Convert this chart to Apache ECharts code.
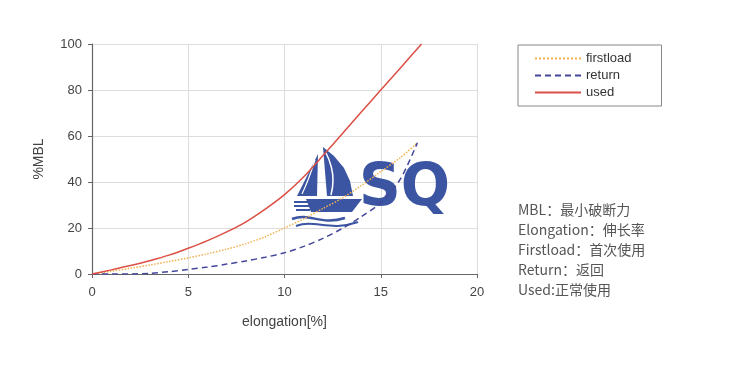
<!DOCTYPE html>
<html><head><meta charset="utf-8">
<script src="https://cdn.jsdelivr.net/npm/echarts@6/dist/echarts.min.js"></script>
<style>html,body{margin:0;padding:0;background:#fff}#c{width:744px;height:376px}</style>
</head><body><div id="c"></div>
<script>
const seriesNames = ['firstload', 'return', 'used'];
const firstloadX = [0,1,2,3,4,5,6,7,8,9,10,11,12,13,14,15,16,16.9];
const firstloadY = [0,1.2,2.5,3.9,5.4,7,8.8,10.8,13.2,16.2,20,24,28.5,33,38.5,44.5,50.5,57];
const returnX = [0,1,2,3,4,5,6,7,8,9,10,11,12,13,14,15,16,16.9];
const returnY = [0,0,0,0.3,1,2,3,4.3,5.7,7.3,9.2,12,15.5,19.8,25,31,41,57];
const usedX = [0,1,2,3,4,5,6,7,8,9,10,11,12,13,14,15,16,17.12];
const usedY = [0,1.8,3.7,5.8,8.2,11.2,14.5,18.3,22.7,28.2,34.5,42.3,51.5,61,70.5,80,89.4,100];
const xTicks = [0,5,10,15,20];
const yTicks = [0,20,40,60,80,100];
const notes = ['MBL：最小破断力','Elongation：伸长率','Firstload：首次使用','Return：返回','Used:正常使用'];

const pairs = (xs, ys) => xs.map((x, i) => [x, ys[i]]);
const chart = echarts.init(document.getElementById('c'));
const font = 'Liberation Sans, Arial, sans-serif';
const logoColor = '#3b55a3';

const graphics = notes.map((t, i) => ({
  type: 'text', left: 518, top: 203 + i * 19.8, z: 5,
  style: { text: t, fill: '#555', font: '14px "Noto Sans CJK SC", sans-serif' }
}));
graphics.push(
  { type: 'polygon', z: 1, shape: { points: [[323,147],[334,156],[344,168],[350,181],[353,196],[327,196]] }, style: { fill: logoColor } },
  { type: 'polyline', z: 1, shape: { points: [[326,153],[331,166],[333,180],[331,195]], smooth: 0.5 }, style: { stroke: '#fff', lineWidth: 1.5, fill: null } },
  { type: 'polygon', z: 1, shape: { points: [[318,154],[317,196],[297,196]] }, style: { fill: logoColor } },
  { type: 'polyline', z: 1, shape: { points: [[315,160],[308,180],[302,194]], smooth: 0.5 }, style: { stroke: '#fff', lineWidth: 1.2, fill: null } },
  { type: 'polygon', z: 1, shape: { points: [[306,199],[362,199],[352,212],[311,212]] }, style: { fill: logoColor } },
  { type: 'line', z: 1, shape: { x1: 294, y1: 202, x2: 308, y2: 202 }, style: { stroke: logoColor, lineWidth: 2 } },
  { type: 'line', z: 1, shape: { x1: 294, y1: 206, x2: 309, y2: 206 }, style: { stroke: logoColor, lineWidth: 2 } },
  { type: 'line', z: 1, shape: { x1: 296, y1: 210, x2: 310, y2: 210 }, style: { stroke: logoColor, lineWidth: 2 } },
  { type: 'bezierCurve', z: 1, shape: { x1: 292, y1: 219, cpx1: 310, cpy1: 212, cpx2: 320, cpy2: 226, x2: 345, y2: 218 }, style: { stroke: logoColor, lineWidth: 2.5, fill: null } },
  { type: 'bezierCurve', z: 1, shape: { x1: 296, y1: 226, cpx1: 315, cpy1: 219, cpx2: 330, cpy2: 232, x2: 358, y2: 222 }, style: { stroke: logoColor, lineWidth: 2, fill: null } },
  { type: 'text', z: 1, left: 359, top: 161, style: { text: 'SQ', fill: logoColor, font: 'bold 58px "DejaVu Sans", sans-serif' } }
);

chart.setOption({
  animation: false,
  backgroundColor: '#fff',
  grid: { left: 92, right: 267, top: 44, bottom: 102, containLabel: false },
  legend: {
    orient: 'vertical', left: 518, top: 45,
    data: seriesNames,
    itemWidth: 46, itemHeight: 14, itemGap: 4,
    padding: [7, 30, 7, 16],
    borderColor: '#888', borderWidth: 1,
    itemStyle: { color: 'rgba(0,0,0,0)', borderWidth: 0, opacity: 0 },
    textStyle: { fontFamily: font, fontSize: 13, color: '#333' }
  },
  xAxis: {
    type: 'value', min: 0, max: 20, interval: 5,
    name: 'elongation[%]', nameLocation: 'middle', nameGap: 41,
    nameTextStyle: { fontFamily: font, fontSize: 14, color: '#444' },
    axisLine: { lineStyle: { color: '#666', width: 1.2 } },
    axisTick: { show: true, length: 4, lineStyle: { color: '#666' } },
    axisLabel: { fontFamily: font, fontSize: 13, color: '#444', margin: 12 },
    splitLine: { show: true, lineStyle: { color: '#ddd', width: 1 } }
  },
  yAxis: {
    type: 'value', min: 0, max: 100, interval: 20,
    name: '%MBL', nameLocation: 'middle', nameGap: 46, nameRotate: 90,
    nameTextStyle: { fontFamily: font, fontSize: 14, color: '#444' },
    axisLine: { show: true, lineStyle: { color: '#666', width: 1.2 } },
    axisTick: { show: true, length: 4, lineStyle: { color: '#666' } },
    axisLabel: { fontFamily: font, fontSize: 13, color: '#444', margin: 10 },
    splitLine: { show: true, lineStyle: { color: '#ddd', width: 1 } }
  },
  graphic: graphics,
  series: [
    { name: 'firstload', type: 'line', data: pairs(firstloadX, firstloadY), smooth: 0.3, symbol: 'none', z: 3,
      lineStyle: { color: '#f2b04f', width: 1.5, type: 'dotted' }, itemStyle: { color: '#f2b04f' } },
    { name: 'return', type: 'line', data: pairs(returnX, returnY), smooth: 0.3, symbol: 'none', z: 3,
      lineStyle: { color: '#45479a', width: 1.5, type: [6, 4] }, itemStyle: { color: '#45479a' } },
    { name: 'used', type: 'line', data: pairs(usedX, usedY), smooth: 0.3, symbol: 'none', z: 3,
      lineStyle: { color: '#dc4f44', width: 1.5 }, itemStyle: { color: '#dc4f44' } }
  ]
});
</script></body></html>
